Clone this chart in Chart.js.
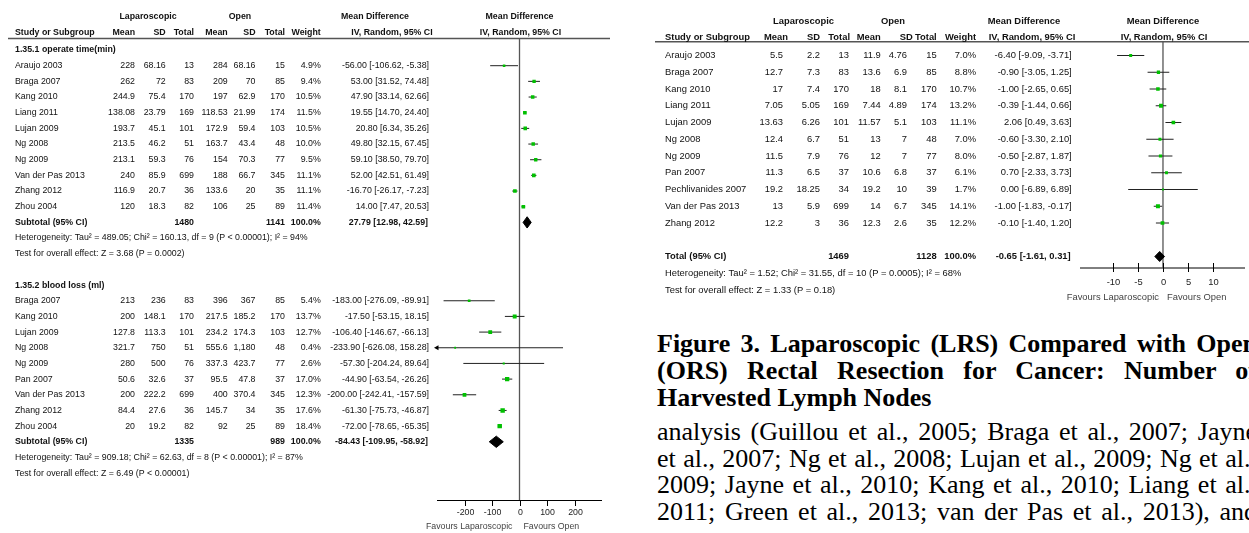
<!DOCTYPE html>
<html>
<head>
<meta charset="utf-8">
<script src="https://cdn.jsdelivr.net/npm/chart.js@4.4.0/dist/chart.umd.min.js"></script>
<style>
  body { margin: 0; width: 1249px; height: 533px; overflow: hidden; background: #fff; position: relative; }
  canvas { position: absolute; top: 0; }
  #cl { left: 0; }
  #cr { left: 640px; }
  .ln { position: absolute; left: 657px; width: 600px; font-family: "Liberation Serif", "Times New Roman", serif;
        font-size: 26px; line-height: 27px; color: #000; text-align: justify; text-align-last: justify; white-space: nowrap; }
  .cap { font-weight: bold; }
  .last { text-align-last: left; }
</style>
</head>
<body>
<canvas id="cl" width="640" height="533"></canvas>
<canvas id="cr" width="609" height="310"></canvas>

<div class="ln cap" style="top:330px">Figure 3. Laparoscopic (LRS) Compared with Open</div>
<div class="ln cap" style="top:357px">(ORS) Rectal Resection for Cancer: Number of</div>
<div class="ln cap last" style="top:384px">Harvested Lymph Nodes</div>
<div class="ln" style="top:418px">analysis (Guillou et al., 2005; Braga et al., 2007; Jayne</div>
<div class="ln" style="top:445px">et al., 2007; Ng et al., 2008; Lujan et al., 2009; Ng et al.,</div>
<div class="ln" style="top:471px">2009; Jayne et al., 2010; Kang et al., 2010; Liang et al.,</div>
<div class="ln" style="top:498px">2011; Green et al., 2013; van der Pas et al., 2013), and</div>

<script>
// ---- 1.35.1 operate time (min) ----
const opStudy = ['Araujo 2003', 'Braga 2007', 'Kang 2010', 'Liang 2011', 'Lujan 2009', 'Ng 2008', 'Ng 2009', 'Van der Pas 2013', 'Zhang 2012', 'Zhou 2004'];
const opLapMean = [228, 262, 244.9, 138.08, 193.7, 213.5, 213.1, 240, 116.9, 120];
const opLapSd = [68.16, 72, 75.4, 23.79, 45.1, 46.2, 59.3, 85.9, 20.7, 18.3];
const opLapN = [13, 83, 170, 169, 101, 51, 76, 699, 36, 82];
const opOpenMean = [284, 209, 197, 118.53, 172.9, 163.7, 154, 188, 133.6, 106];
const opOpenSd = [68.16, 70, 62.9, 21.99, 59.4, 43.4, 70.3, 66.7, 20, 25];
const opOpenN = [15, 85, 170, 174, 103, 48, 77, 345, 35, 89];
const opWeight = [4.9, 9.4, 10.5, 11.5, 10.5, 10.0, 9.5, 11.1, 11.1, 11.4];
const opMd = [-56.00, 53.00, 47.90, 19.55, 20.80, 49.80, 59.10, 52.00, -16.70, 14.00];
const opLo = [-106.62, 31.52, 33.14, 14.70, 6.34, 32.15, 38.50, 42.51, -26.17, 7.47];
const opHi = [-5.38, 74.48, 62.66, 24.40, 35.26, 67.45, 79.70, 61.49, -7.23, 20.53];

// ---- 1.35.2 blood loss (ml) ----
const blStudy = ['Braga 2007', 'Kang 2010', 'Lujan 2009', 'Ng 2008', 'Ng 2009', 'Pan 2007', 'Van der Pas 2013', 'Zhang 2012', 'Zhou 2004'];
const blLapMean = [213, 200, 127.8, 321.7, 280, 50.6, 200, 84.4, 20];
const blLapSd = [236, 148.1, 113.3, 750, 500, 32.6, 222.2, 27.6, 19.2];
const blLapN = [83, 170, 101, 51, 76, 37, 699, 36, 82];
const blOpenMean = [396, 217.5, 234.2, 555.6, 337.3, 95.5, 400, 145.7, 92];
const blOpenSd = [367, 185.2, 174.3, 1180, 423.7, 47.8, 370.4, 34, 25];
const blOpenN = [85, 170, 103, 48, 77, 37, 345, 35, 89];
const blWeight = [5.4, 13.7, 12.7, 0.4, 2.6, 17.0, 12.3, 17.6, 18.4];
const blMd = [-183.00, -17.50, -106.40, -233.90, -57.30, -44.90, -200.00, -61.30, -72.00];
const blLo = [-276.09, -53.15, -146.67, -626.08, -204.24, -63.54, -242.41, -75.73, -78.65];
const blHi = [-89.91, 18.15, -66.13, 158.28, 89.64, -26.26, -157.59, -46.87, -65.35];

// subtotals: [operate time, blood loss]
const subLapN = [1480, 1335];
const subOpenN = [1141, 989];
const subMd = [27.79, -84.43];
const subLo = [12.98, -109.95];
const subHi = [42.59, -58.92];
const subHet = ['Heterogeneity: Tau\u00b2 = 489.05; Chi\u00b2 = 160.13, df = 9 (P < 0.00001); I\u00b2 = 94%',
                'Heterogeneity: Tau\u00b2 = 909.18; Chi\u00b2 = 62.63, df = 8 (P < 0.00001); I\u00b2 = 87%'];
const subTest = ['Test for overall effect: Z = 3.68 (P = 0.0002)', 'Test for overall effect: Z = 6.49 (P < 0.00001)'];
const leftTicks = [-200, -100, 0, 100, 200];

// ---- harvested lymph nodes ----
const lnStudy = ['Araujo 2003', 'Braga 2007', 'Kang 2010', 'Liang 2011', 'Lujan 2009', 'Ng 2008', 'Ng 2009', 'Pan 2007', 'Pechlivanides 2007', 'Van der Pas 2013', 'Zhang 2012'];
const lnLapMean = [5.5, 12.7, 17, 7.05, 13.63, 12.4, 11.5, 11.3, 19.2, 13, 12.2];
const lnLapSd = [2.2, 7.3, 7.4, 5.05, 6.26, 6.7, 7.9, 6.5, 18.25, 5.9, 3];
const lnLapN = [13, 83, 170, 169, 101, 51, 76, 37, 34, 699, 36];
const lnOpenMean = [11.9, 13.6, 18, 7.44, 11.57, 13, 12, 10.6, 19.2, 14, 12.3];
const lnOpenSd = [4.76, 6.9, 8.1, 4.89, 5.1, 7, 7, 6.8, 10, 6.7, 2.6];
const lnOpenN = [15, 85, 170, 174, 103, 48, 77, 37, 39, 345, 35];
const lnWeight = [7.0, 8.8, 10.7, 13.2, 11.1, 7.0, 8.0, 6.1, 1.7, 14.1, 12.2];
const lnMd = [-6.40, -0.90, -1.00, -0.39, 2.06, -0.60, -0.50, 0.70, 0.00, -1.00, -0.10];
const lnLo = [-9.09, -3.05, -2.65, -1.44, 0.49, -3.30, -2.87, -2.33, -6.89, -1.83, -1.40];
const lnHi = [-3.71, 1.25, 0.65, 0.66, 3.63, 2.10, 1.87, 3.73, 6.89, -0.17, 1.20];
const lnTotal = [1469, 1128, -0.65, -1.61, 0.31]; // lapN, openN, md, lo, hi
const lnHet = 'Heterogeneity: Tau\u00b2 = 1.52; Chi\u00b2 = 31.55, df = 10 (P = 0.0005); I\u00b2 = 68%';
const lnTest = 'Test for overall effect: Z = 1.33 (P = 0.18)';
const rightTicks = [-10, -5, 0, 5, 10];

const GREEN = '#00c000';
const FONT = '"Liberation Sans", Arial, sans-serif';

function num(v) { return v.toLocaleString('en-US', {maximumFractionDigits: 2}); }
function ci(m, l, h) { return m.toFixed(2) + ' [' + l.toFixed(2) + ', ' + h.toFixed(2) + ']'; }
function side(w) { return Math.max(1.8, 0.6 + 0.9 * Math.sqrt(w)); }

// one text row of the table
function studyRow(r, c, name, a, b, n1, d, e, n2, w, m, l, h) {
  return {r: r, cells: [
    [name, c.study, 'left'], [num(a), c.lapMean, 'right'], [num(b), c.lapSd, 'right'], [String(n1), c.lapN, 'right'],
    [num(d), c.openMean, 'right'], [num(e), c.openSd, 'right'], [String(n2), c.openN, 'right'],
    [w.toFixed(1) + '%', c.weight, 'right'], [ci(m, l, h), c.ci, 'right']]};
}

function forestPlugin(cfg) {
  return {
    id: 'forest',
    beforeDatasetsDraw(chart) {
      const {ctx, chartArea: a, scales: {x}} = chart;
      const x0 = x.getPixelForValue(0);
      ctx.save();
      ctx.strokeStyle = '#555'; ctx.lineWidth = 1.3;
      ctx.beginPath(); ctx.moveTo(x0, cfg.ruleY); ctx.lineTo(x0, a.bottom); ctx.stroke();
      ctx.strokeStyle = '#000'; ctx.lineWidth = 1;
      ctx.beginPath(); ctx.moveTo(a.left, a.bottom + 0.5); ctx.lineTo(a.right, a.bottom + 0.5); ctx.stroke();
      ctx.fillStyle = '#222';
      ctx.font = cfg.size + 'px ' + FONT;
      ctx.textAlign = 'center'; ctx.textBaseline = 'middle';
      cfg.ticks.forEach(t => {
        const px = Math.round(x.getPixelForValue(t)) + 0.5;
        ctx.beginPath(); ctx.moveTo(px, a.bottom + cfg.tickUp); ctx.lineTo(px, a.bottom + cfg.tickDown); ctx.stroke();
        ctx.fillText(String(t), px, cfg.tickLabelY);
      });
      ctx.fillStyle = '#444';
      ctx.textAlign = 'right'; ctx.fillText('Favours Laparoscopic', x0 - cfg.favGap[0], cfg.favY);
      ctx.textAlign = 'left'; ctx.fillText('Favours Open', x0 + cfg.favGap[1], cfg.favY);
      ctx.restore();
    },
    afterDraw(chart) {
      const {ctx, scales: {x, y}} = chart;
      const x0 = x.getPixelForValue(0);
      ctx.save();
      ctx.strokeStyle = '#555'; ctx.lineWidth = 1.5;
      ctx.beginPath(); ctx.moveTo(cfg.rule[0], cfg.ruleY); ctx.lineTo(cfg.rule[1], cfg.ruleY); ctx.stroke();
      ctx.fillStyle = '#111'; ctx.textBaseline = 'middle';
      const put = (t, px, py, align, bold) => {
        ctx.font = (bold ? 'bold ' : '') + cfg.size + 'px ' + FONT;
        ctx.textAlign = align; ctx.fillText(t, px, py);
      };
      const h = cfg.head;
      put('Laparoscopic', h.lap, h.y1, 'center', true);
      put('Open', h.open, h.y1, 'center', true);
      put('Mean Difference', h.md, h.y1, 'center', true);
      put('Mean Difference', x0, h.y1, 'center', true);
      put('Study or Subgroup', cfg.cols.study, h.y2, 'left', true);
      h.labels.forEach(l => put(l[0], l[1], h.y2, 'right', true));
      put('IV, Random, 95% CI', h.iv, h.y2, 'center', true);
      put('IV, Random, 95% CI', x0 + 1, h.y2, 'center', true);
      cfg.rows.forEach(row => {
        const py = y.getPixelForValue(row.r);
        row.cells.forEach(c => put(c[0], c[1], py, c[2], row.bold));
      });
      ctx.restore();
    }
  };
}

function makeChart(id, cfg, data) {
  const geo = cfg.geo;
  const yMin = (geo.top - geo.row0) / geo.step;
  const yMax = (geo.bottom - geo.row0) / geo.step;
  const W = document.getElementById(id).width, H = document.getElementById(id).height;
  return new Chart(document.getElementById(id), {
    type: 'scatter',
    data: {datasets: data},
    options: {
      responsive: false, animation: false, events: [],
      layout: {padding: {left: geo.left, right: W - geo.right, top: geo.top, bottom: H - geo.bottom}},
      plugins: {legend: {display: false}, tooltip: {enabled: false}},
      scales: {
        x: {type: 'linear', display: false, min: cfg.xMin, max: cfg.xMax},
        y: {type: 'linear', display: false, min: yMin, max: yMax, reverse: true}
      }
    },
    plugins: [forestPlugin(cfg)]
  });
}

// build datasets for a group of study rows
function groupSets(rows, md, lo, hi, w, xMin) {
  const sq = {data: rows.map((r, i) => ({x: md[i], y: r})), pointStyle: 'rect',
    pointRadius: w.map(v => side(v) / Math.SQRT2), pointBackgroundColor: GREEN, pointBorderWidth: 0};
  const seg = [];
  rows.forEach((r, i) => { seg.push({x: lo[i], y: r}, {x: hi[i], y: r}, {x: null, y: null}); });
  const line = {data: seg, showLine: true, spanGaps: false, borderColor: '#222', borderWidth: 1, pointRadius: 0};
  const arrows = [];
  rows.forEach((r, i) => { if (lo[i] < xMin) arrows.push({x: xMin, y: r}); });
  const arrow = {data: arrows, pointStyle: 'triangle', pointRotation: -90, pointRadius: 3,
    pointBackgroundColor: '#000', pointBorderWidth: 0, clip: false};
  return [sq, arrow, line];
}
function diamondSet(r, m, l, h, half) {
  return {data: [{x: l, y: r}, {x: m, y: r - half}, {x: h, y: r}, {x: m, y: r + half}, {x: l, y: r}],
    showLine: true, fill: 'shape', backgroundColor: '#000', borderColor: '#000', borderWidth: 1, pointRadius: 0};
}

// ---------- left panel ----------
const LC = {study: 15, lapMean: 135, lapSd: 165.7, lapN: 194, openMean: 227.7, openSd: 255.5, openN: 285, weight: 320.7, ci: 429};
const opRows = opStudy.map((s, i) => i);
const blRows = blStudy.map((s, i) => 15 + i);
const subRows = [10, 24];
const leftRows = [{r: -1, bold: true, cells: [['1.35.1 operate time(min)', LC.study, 'left']]},
                  {r: 14, bold: true, cells: [['1.35.2 blood loss (ml)', LC.study, 'left']]}];
opStudy.forEach((s, i) => leftRows.push(studyRow(opRows[i], LC, s, opLapMean[i], opLapSd[i], opLapN[i], opOpenMean[i], opOpenSd[i], opOpenN[i], opWeight[i], opMd[i], opLo[i], opHi[i])));
blStudy.forEach((s, i) => leftRows.push(studyRow(blRows[i], LC, s, blLapMean[i], blLapSd[i], blLapN[i], blOpenMean[i], blOpenSd[i], blOpenN[i], blWeight[i], blMd[i], blLo[i], blHi[i])));
subRows.forEach((r, k) => {
  leftRows.push({r: r, bold: true, cells: [['Subtotal (95% CI)', LC.study, 'left'], [String(subLapN[k]), LC.lapN, 'right'],
    [String(subOpenN[k]), LC.openN, 'right'], ['100.0%', LC.weight, 'right'], [ci(subMd[k], subLo[k], subHi[k]), LC.ci - 1, 'right']]});
  leftRows.push({r: r + 1, cells: [[subHet[k], LC.study, 'left']]});
  leftRows.push({r: r + 2, cells: [[subTest[k], LC.study, 'left']]});
});

const leftCfg = {
  size: 8.8, xMin: -300, xMax: 300, ticks: leftTicks, rows: leftRows, cols: LC,
  geo: {left: 437, right: 602, top: 38.5, bottom: 500, row0: 65.7, step: 15.67},
  rule: [8, 610], ruleY: 38.5,
  head: {y1: 16.7, y2: 33, lap: 148, open: 240, md: 375, iv: 392,
         labels: [['Mean', 135], ['SD', 165.7], ['Total', 194], ['Mean', 227.7], ['SD', 255.5], ['Total', 285], ['Weight', 320.7]]},
  tickUp: 0, tickDown: 6, tickLabelY: 513, favY: 527, favGap: [7, 4]
};
makeChart('cl', leftCfg, [
  ...groupSets(opRows, opMd, opLo, opHi, opWeight, leftCfg.xMin),
  ...groupSets(blRows, blMd, blLo, blHi, blWeight, leftCfg.xMin),
  diamondSet(subRows[0], subMd[0], subLo[0], subHi[0], 0.36),
  diamondSet(subRows[1], subMd[1], subLo[1], subHi[1], 0.36)
]);

// ---------- right panel ----------
const RC = {study: 25, lapMean: 143, lapSd: 180, lapN: 209, openMean: 240.7, openSd: 267, openN: 296.7, weight: 336, ci: 431.7};
const lnRows = lnStudy.map((s, i) => i);
const rightRows = [];
lnStudy.forEach((s, i) => rightRows.push(studyRow(lnRows[i], RC, s, lnLapMean[i], lnLapSd[i], lnLapN[i], lnOpenMean[i], lnOpenSd[i], lnOpenN[i], lnWeight[i], lnMd[i], lnLo[i], lnHi[i])));
rightRows.push({r: 12, bold: true, cells: [['Total (95% CI)', RC.study, 'left'], [String(lnTotal[0]), RC.lapN, 'right'],
  [String(lnTotal[1]), RC.openN, 'right'], ['100.0%', RC.weight, 'right'], [ci(lnTotal[2], lnTotal[3], lnTotal[4]), RC.ci - 1, 'right']]});
rightRows.push({r: 13, cells: [[lnHet, RC.study, 'left']]});
rightRows.push({r: 14, cells: [[lnTest, RC.study, 'left']]});

const rightCfg = {
  size: 9.4, xMin: -16.44, xMax: 16.25, ticks: rightTicks, rows: rightRows, cols: RC,
  geo: {left: 440, right: 609, top: 41.7, bottom: 267.5, row0: 55.5, step: 16.75},
  rule: [15, 609], ruleY: 41.7,
  head: {y1: 21, y2: 37.5, lap: 163.5, open: 253, md: 384, iv: 392,
         labels: [['Mean', 148], ['SD', 180], ['Total', 210], ['Mean', 240.7], ['SD', 272.7], ['Total', 296.7], ['Weight', 336]]},
  tickUp: -4.5, tickDown: 4.5, tickLabelY: 282, favY: 297, favGap: [4, 4]
};
makeChart('cr', rightCfg, [
  ...groupSets(lnRows, lnMd, lnLo, lnHi, lnWeight, rightCfg.xMin),
  diamondSet(12, lnTotal[2], lnTotal[3], lnTotal[4], 0.3)
]);
</script>
</body>
</html>
